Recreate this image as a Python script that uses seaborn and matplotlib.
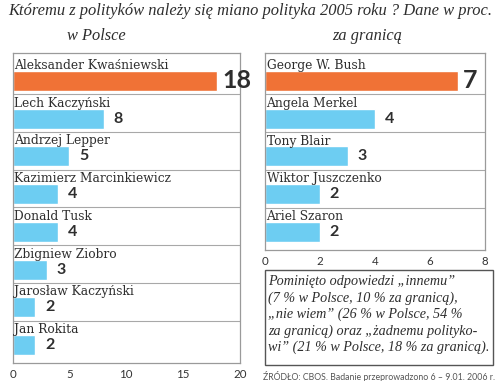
import matplotlib
matplotlib.use("Agg")
import matplotlib.pyplot as plt
import matplotlib.patches as mpatches
import matplotlib.transforms as mtransforms
import seaborn as sns

# ---- data ----
pl_names = ["Aleksander Kwaśniewski", "Lech Kaczyński", "Andrzej Lepper",
            "Kazimierz Marcinkiewicz", "Donald Tusk", "Zbigniew Ziobro",
            "Jarosław Kaczyński", "Jan Rokita"]
pl_values = [18, 8, 5, 4, 4, 3, 2, 2]
pl_ticks = [0, 5, 10, 15, 20]

ab_names = ["George W. Bush", "Angela Merkel", "Tony Blair",
            "Wiktor Juszczenko", "Ariel Szaron"]
ab_values = [7, 4, 3, 2, 2]
ab_ticks = [0, 2, 4, 6, 8]

title = "Któremu z polityków należy się miano polityka 2005 roku ? Dane w proc."
sub_left = "w Polsce"
sub_right = "za granicą"
note = ("Pominięto odpowiedzi „innemu”\n"
        "(7 % w Polsce, 10 % za granicą),\n"
        "„nie wiem” (26 % w Polsce, 54 %\n"
        "za granicą) oraz „żadnemu polityko-\n"
        "wi” (21 % w Polsce, 18 % za granicą).")
source = "ŹRÓDŁO: CBOS. Badanie przeprowadzono 6 – 9.01. 2006 r."

ORANGE = "#F07236"
BLUE = "#6DCDF2"
TXT = "#2e2e2e"
GRID = "#a8a8a8"

sns.set_style("white")
plt.rcParams["font.family"] = ["DejaVu Sans"]

W, H = 500, 381
fig = plt.figure(figsize=(W / 100, H / 100), dpi=100)


def fx(px):
    return px / W


def fy(py):
    return 1 - py / H


def panel(rect, names, values, ticks):
    ax = fig.add_axes(rect)
    n = len(names)
    colors = [ORANGE] + [BLUE] * (n - 1)
    sns.barplot(x=values, y=names, hue=names, palette=colors, orient="h",
                width=0.53, legend=False, ax=ax, saturation=1)
    ax.set_ylim(n - 1 + 0.475, -0.735)
    ax.set_xlim(ticks[0], ticks[-1])
    ax.set_xticks(ticks)
    ax.set_yticks([])
    ax.set_xlabel("")
    ax.set_ylabel("")
    for s in ax.spines.values():
        s.set_visible(True)
        s.set_color("#9a9a9a")
        s.set_linewidth(0.9)
    ax.tick_params(axis="x", direction="in", length=6, width=0.8,
                   color="#9a9a9a", labelsize=8.3, labelcolor="#333333", pad=4)
    for lab in ax.get_xticklabels():
        lab.set_fontfamily("Lato")
    for i in range(n - 1):
        ax.axhline(i + 0.355, color=GRID, lw=0.8, zorder=0)
    trans = mtransforms.blended_transform_factory(ax.transAxes, ax.transData)
    for i, name in enumerate(names):
        ax.text(0.007, i - 0.315, name, transform=trans, ha="left",
                va="baseline", fontsize=8.8, color=TXT,
                family="DejaVu Serif")
    for i, cont in enumerate(ax.containers):
        big = i == 0
        ax.bar_label(cont, labels=[str(values[i])],
                     padding=3.6 if big else 7,
                     fontsize=18 if big else 11.5, fontweight="bold",
                     color=TXT, family="Lato", clip_on=False)
    return ax


panel([fx(12.5), fy(363), fx(240 - 12.5), (363 - 53) / H],
      pl_names, pl_values, pl_ticks)
panel([fx(265), fy(250), fx(220), (250 - 53) / H],
      ab_names, ab_values, ab_ticks)

fig.text(0.5, fy(11), title, ha="center", va="center", fontstyle="italic",
         family="Liberation Serif", fontsize=11.9, color=TXT)
fig.text(fx(96), fy(36), sub_left, ha="center", va="center",
         fontstyle="italic", family="Liberation Serif", fontsize=11.8,
         color=TXT)
fig.text(fx(367), fy(36), sub_right, ha="center", va="center",
         fontstyle="italic", family="Liberation Serif", fontsize=11.8,
         color=TXT)

rect = mpatches.Rectangle((fx(265), fy(365)), fx(228), 95 / H,
                          transform=fig.transFigure, fill=False,
                          edgecolor="#555555", lw=1)
fig.add_artist(rect)
fig.text(fx(268), fy(275), note, ha="left", va="top", fontstyle="italic",
         family="Liberation Serif", fontsize=10.2, color=TXT,
         linespacing=1.3)
fig.text(fx(263), fy(377), source, ha="left", va="center", fontsize=6.3,
         color="#555555", family="Lato")

fig.savefig("out.png", dpi=100)
